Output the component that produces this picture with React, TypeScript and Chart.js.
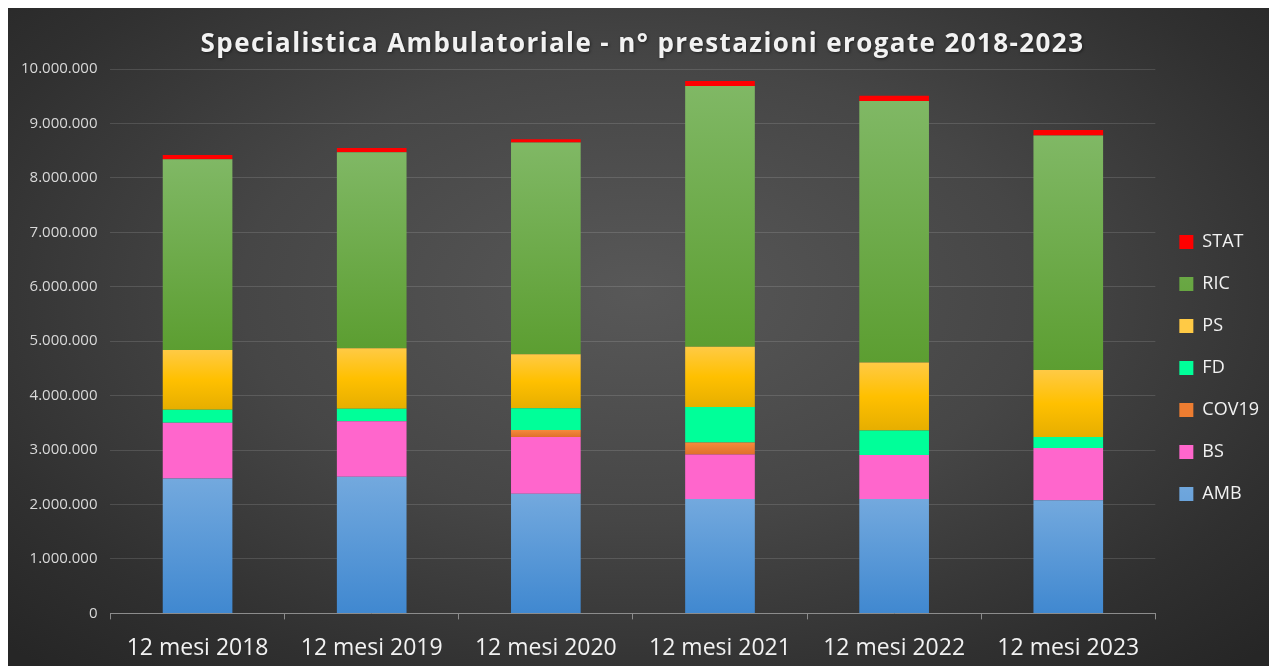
import { useEffect, useRef } from "react";
import { Chart, registerables } from "chart.js";

Chart.register(...registerables);

const TITLE = "Specialistica Ambulatoriale - n° prestazioni erogate 2018-2023";

const categories = [
  "12 mesi 2018",
  "12 mesi 2019",
  "12 mesi 2020",
  "12 mesi 2021",
  "12 mesi 2022",
  "12 mesi 2023",
];

const AMB = [2480000, 2510000, 2200000, 2100000, 2100000, 2080000];
const BS = [1020000, 1020000, 1040000, 820000, 810000, 960000];
const COV19 = [0, 0, 130000, 220000, 0, 0];
const FD = [240000, 230000, 400000, 650000, 450000, 200000];
const PS = [1100000, 1110000, 990000, 1110000, 1250000, 1230000];
const RIC = [3500000, 3600000, 3890000, 4790000, 4800000, 4310000];
const STAT = [80000, 80000, 60000, 90000, 100000, 100000];

const Y_MAX = 10000000;
const Y_STEP = 1000000;

function fmt(v: number): string {
  return String(Math.round(v)).replace(/\B(?=(\d{3})+(?!\d))/g, ".");
}

function grad(stops: [number, string][], solid: string) {
  return (c: any) => {
    if (c.type !== "data") return solid;
    const chart = c.chart;
    const y = chart.scales && chart.scales.y;
    if (!y) return solid;
    const di = c.datasetIndex;
    const i = c.dataIndex;
    let base = 0;
    for (let k = 0; k < di; k++) base += Number(chart.data.datasets[k].data[i]) || 0;
    const top = base + (Number(chart.data.datasets[di].data[i]) || 0);
    const y0 = y.getPixelForValue(top);
    const y1 = y.getPixelForValue(base);
    if (!isFinite(y0) || !isFinite(y1) || y1 - y0 < 1) return solid;
    const g = chart.ctx.createLinearGradient(0, y0, 0, y1);
    stops.forEach(([o, col]) => g.addColorStop(o, col));
    return g;
  };
}

const titlePlugin = {
  id: "customTitle",
  afterLayout(chart: any) {
    const l = chart.legend;
    if (l) {
      l.top -= 5;
      l.bottom -= 5;
    }
  },
  afterDraw(chart: any) {
    const ctx = chart.ctx;
    ctx.save();
    ctx.font = 'bold 26px "Open Sans"';
    ctx.letterSpacing = "1.4px";
    ctx.fillStyle = "#f2f2f2";
    ctx.textAlign = "center";
    ctx.textBaseline = "middle";
    ctx.shadowColor = "rgba(0,0,0,0.5)";
    ctx.shadowBlur = 3;
    ctx.shadowOffsetX = 1;
    ctx.shadowOffsetY = 1;
    ctx.fillText(TITLE, chart.width / 2 + 4, chart.chartArea.top - 24);
    ctx.restore();
  },
};

export default function App() {
  const ref = useRef<HTMLCanvasElement | null>(null);

  useEffect(() => {
    let chart: Chart | null = null;
    let cancelled = false;
    const make = () => {
      if (cancelled || !ref.current) return;
      chart = new Chart(ref.current, {
        type: "bar",
        data: {
          labels: categories,
          datasets: [
            {
              label: "AMB",
              data: AMB,
              backgroundColor: grad([[0, "#73a9de"], [1, "#4088d0"]], "#5b9bd5"),
            },
            { label: "BS", data: BS, backgroundColor: "#ff66cc" },
            {
              label: "COV19",
              data: COV19,
              backgroundColor: grad([[0, "#f58a3c"], [1, "#e0702a"]], "#ed7d31"),
            },
            { label: "FD", data: FD, backgroundColor: "#00ff99" },
            {
              label: "PS",
              data: PS,
              backgroundColor: grad(
                [[0, "#ffca45"], [0.5, "#ffc000"], [1, "#e6ae00"]],
                "#ffc000"
              ),
            },
            {
              label: "RIC",
              data: RIC,
              backgroundColor: grad([[0, "#80b865"], [1, "#5c9e31"]], "#70ad47"),
            },
            { label: "STAT", data: STAT, backgroundColor: "#ff0000" },
          ],
        },
        options: {
          responsive: true,
          maintainAspectRatio: false,
          animation: false,
          layout: { padding: { top: 61, left: 0, right: 0, bottom: 8 } },
          datasets: {
            bar: { barPercentage: 0.4, categoryPercentage: 1.0, borderWidth: 0 },
          },
          plugins: {
            title: { display: false },
            tooltip: { enabled: false },
            legend: {
              position: "right",
              reverse: true,
              labels: {
                color: "#f2f2f2",
                font: { family: "'Open Sans'", size: 18 },
                boxWidth: 14,
                boxHeight: 14,
                padding: 24,
              },
            },
          },
          scales: {
            x: {
              stacked: true,
              grid: {
                display: true,
                drawOnChartArea: false,
                drawTicks: true,
                tickLength: 6,
                color: "#8c8c8c",
                offset: true,
              },
              border: { display: true, color: "#8c8c8c", width: 1 },
              ticks: {
                color: "#f2f2f2",
                font: { family: "'Open Sans'", size: 23 },
                padding: 15,
                maxRotation: 0,
              },
            },
            y: {
              stacked: true,
              min: 0,
              max: Y_MAX,
              grid: {
                color: "rgba(255,255,255,0.13)",
                drawTicks: false,
              },
              border: { display: false },
              ticks: {
                stepSize: Y_STEP,
                color: "#d9d9d9",
                font: { family: "'Open Sans'", size: 15 },
                padding: 13,
                callback: (v: any) => fmt(Number(v)),
              },
            },
          },
        },
        plugins: [titlePlugin],
      });
    };
    const fonts: any = (document as any).fonts;
    if (fonts && fonts.load) {
      Promise.all([
        fonts.load('bold 26px "Open Sans"'),
        fonts.load('18px "Open Sans"'),
      ])
        .catch(() => null)
        .then(make);
    } else {
      make();
    }
    return () => {
      cancelled = true;
      if (chart) chart.destroy();
    };
  }, []);

  return (
    <div
      style={{
        width: "100%",
        height: 677,
        position: "relative",
        background:
          "radial-gradient(ellipse 70% 75% at 50% 42%, #585858 0%, #464646 45%, #303030 80%, #262626 100%)",
      }}
    >
      <canvas ref={ref} />
    </div>
  );
}
